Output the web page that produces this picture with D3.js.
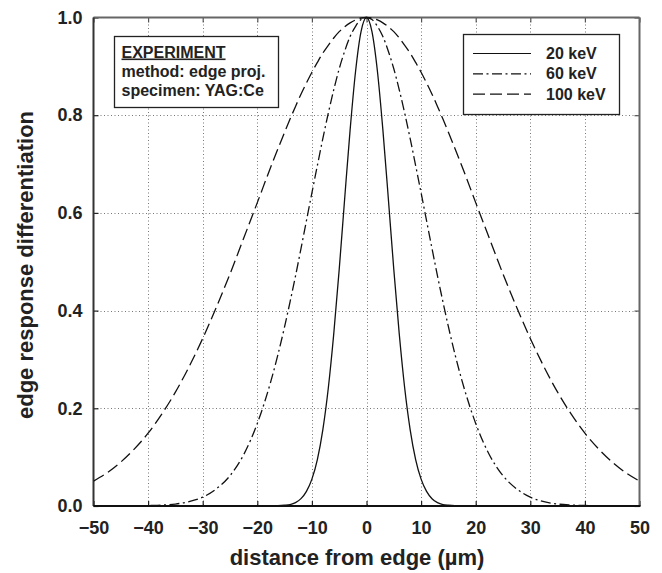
<!DOCTYPE html>
<html>
<head>
<meta charset="utf-8">
<script src="https://cdn.jsdelivr.net/npm/d3@7"></script>
<style>
  html, body { margin: 0; padding: 0; background: #fff; }
  svg { display: block; font-family: "Liberation Sans", Arial, sans-serif; font-weight: bold; }
</style>
</head>
<body>
<svg id="chart" width="662" height="573"></svg>
<script>
// ---- data ----
const distance = [-50,-47.5,-45,-42.5,-40,-37.5,-35,-32.5,-30,-27.5,-25,-22.5,-20,-17.5,-15,-14,-13,-12,-11,-10,-9,-8,-7,-6,-5,-4,-3,-2,-1,0,1,2,3,4,5,6,7,8,9,10,11,12,13,14,15,17.5,20,22.5,25,27.5,30,32.5,35,37.5,40,42.5,45,47.5,50];
const kev20 = [0,0,0,0,0,0,0,0,0,0,0,0,0,0.0001,0.0015,0.003,0.007,0.015,0.030,0.055,0.095,0.156,0.241,0.352,0.484,0.629,0.770,0.890,0.971,1,0.971,0.890,0.770,0.629,0.484,0.352,0.241,0.156,0.095,0.055,0.030,0.015,0.007,0.003,0.0015,0.0001,0,0,0,0,0,0,0,0,0,0,0,0,0];
const kev60 = [0,0,0,0,0.001,0.002,0.004,0.009,0.018,0.035,0.062,0.105,0.169,0.256,0.367,0.418,0.471,0.527,0.584,0.641,0.697,0.752,0.804,0.852,0.895,0.931,0.961,0.982,0.996,1,0.996,0.982,0.961,0.931,0.895,0.852,0.804,0.752,0.697,0.641,0.584,0.527,0.471,0.418,0.367,0.256,0.169,0.105,0.062,0.035,0.018,0.009,0.004,0.002,0.001,0,0,0,0];
const kev100 = [0.051,0.068,0.090,0.117,0.149,0.188,0.233,0.285,0.343,0.407,0.475,0.548,0.621,0.695,0.765,0.792,0.818,0.843,0.866,0.888,0.908,0.927,0.943,0.958,0.971,0.981,0.989,0.995,0.999,1,0.999,0.995,0.989,0.981,0.971,0.958,0.943,0.927,0.908,0.888,0.866,0.843,0.818,0.792,0.765,0.695,0.621,0.548,0.475,0.407,0.343,0.285,0.233,0.188,0.149,0.117,0.090,0.068,0.051];
const seriesNames = ["20 keV", "60 keV", "100 keV"];
const xTicks = [-50,-40,-30,-20,-10,0,10,20,30,40,50];
const yTicks = [0,0.2,0.4,0.6,0.8,1.0];
const infoLines = ["EXPERIMENT", "method: edge proj.", "specimen: YAG:Ce"];
const xTitle = "distance from edge (\u00b5m)";
const yTitle = "edge response differentiation";

// ---- layout ----
const L = 93.5, R = 639.5, T = 17.5, B = 506;
const svg = d3.select("#chart");
const x = d3.scaleLinear().domain([-50, 50]).range([L, R]);
const y = d3.scaleLinear().domain([0, 1]).range([B, T]);

// grid
const grid = svg.append("g").attr("stroke", "#777").attr("stroke-width", 1).attr("stroke-dasharray", "1,2.5");
grid.selectAll(".gx").data(xTicks.slice(1, -1)).join("line")
  .attr("x1", d => Math.round(x(d)) + 0.5).attr("x2", d => Math.round(x(d)) + 0.5)
  .attr("y1", T).attr("y2", B);
grid.selectAll(".gy").data(yTicks.slice(1, -1)).join("line")
  .attr("y1", d => Math.round(y(d)) + 0.5).attr("y2", d => Math.round(y(d)) + 0.5)
  .attr("x1", L).attr("x2", R);

// axes
const xAxisB = d3.axisBottom(x).tickValues(xTicks).tickSize(-5).tickPadding(15).tickFormat(d3.format("d"));
const xAxisT = d3.axisTop(x).tickValues(xTicks).tickSize(-5).tickFormat("");
const yAxisL = d3.axisLeft(y).tickValues(yTicks).tickSize(-5).tickPadding(11).tickFormat(d3.format(".1f"));
const yAxisR = d3.axisRight(y).tickValues(yTicks).tickSize(-5).tickFormat("");

function styleAxis(g, col) {
  g.select(".domain").remove();
  g.selectAll(".tick line").attr("stroke", col).attr("stroke-width", 1.2);
  g.selectAll("text").attr("fill", "#222").style("font-size", "18px").style("font-weight", "bold")
    .style("font-family", "Liberation Sans, Arial, sans-serif");
}
svg.append("g").attr("transform", `translate(0,${B})`).call(xAxisB).call(g => styleAxis(g, "#222"));
svg.append("g").attr("transform", `translate(0,${T})`).call(xAxisT).call(g => styleAxis(g, "#555"));
svg.append("g").attr("transform", `translate(${L},0)`).call(yAxisL).call(g => styleAxis(g, "#222"));
svg.append("g").attr("transform", `translate(${R},0)`).call(yAxisR).call(g => styleAxis(g, "#555"));

// frame
svg.append("line").attr("x1", L).attr("x2", R).attr("y1", T).attr("y2", T).attr("stroke", "#666").attr("stroke-width", 2);
svg.append("line").attr("x1", R).attr("x2", R).attr("y1", T).attr("y2", B).attr("stroke", "#666").attr("stroke-width", 2);
svg.append("line").attr("x1", L).attr("x2", L).attr("y1", T).attr("y2", B).attr("stroke", "#333").attr("stroke-width", 2);
svg.append("line").attr("x1", L).attr("x2", R + 1).attr("y1", B).attr("y2", B).attr("stroke", "#111").attr("stroke-width", 2);

// curves
const styles = [
  { dash: null },
  { dash: "10,3.5,2,3.5" },
  { dash: "12,5" }
];
const seriesData = [kev20, kev60, kev100];
svg.append("clipPath").attr("id", "clip").append("rect").attr("x", L).attr("y", T - 2).attr("width", R - L).attr("height", B - T + 2);
const line = d3.line().x((d, i) => x(distance[i])).y(d => y(d)).curve(d3.curveMonotoneX);
const curves = svg.append("g").attr("clip-path", "url(#clip)");
seriesData.forEach((vals, k) => {
  curves.append("path").datum(vals).attr("d", line)
    .attr("fill", "none").attr("stroke", "#111").attr("stroke-width", 1.3)
    .attr("stroke-dasharray", styles[k].dash);
});

// info box
svg.append("rect").attr("x", 114.5).attr("y", 36.5).attr("width", 164).attr("height", 71)
  .attr("fill", "#fff").attr("stroke", "#222").attr("stroke-width", 1.3);
const info = svg.append("g").attr("fill", "#222").style("font-size", "16px");
infoLines.forEach((t, i) => {
  info.append("text").attr("x", 121.5).attr("y", 57.5 + i * 19).text(t)
    .attr("text-decoration", i === 0 ? "underline" : null);
});

// legend
svg.append("rect").attr("x", 463.5).attr("y", 34.5).attr("width", 156).attr("height", 80)
  .attr("fill", "#fff").attr("stroke", "#222").attr("stroke-width", 1.3);
const lg = svg.append("g");
seriesNames.forEach((name, k) => {
  const yy = 53.5 + k * 20.3;
  lg.append("line").attr("x1", 473).attr("x2", 531).attr("y1", yy).attr("y2", yy)
    .attr("stroke", "#111").attr("stroke-width", 1.2).attr("stroke-dasharray", styles[k].dash);
  lg.append("text").attr("x", 546).attr("y", yy + 5.5).attr("fill", "#222").style("font-size", "16px").text(name);
});

// axis titles
svg.append("text").attr("x", 357).attr("y", 565).attr("text-anchor", "middle")
  .attr("fill", "#222").style("font-size", "22px").text(xTitle);
svg.append("text").attr("transform", "translate(33,265) rotate(-90)").attr("text-anchor", "middle")
  .attr("fill", "#222").style("font-size", "22px").text(yTitle);
</script>
</body>
</html>
